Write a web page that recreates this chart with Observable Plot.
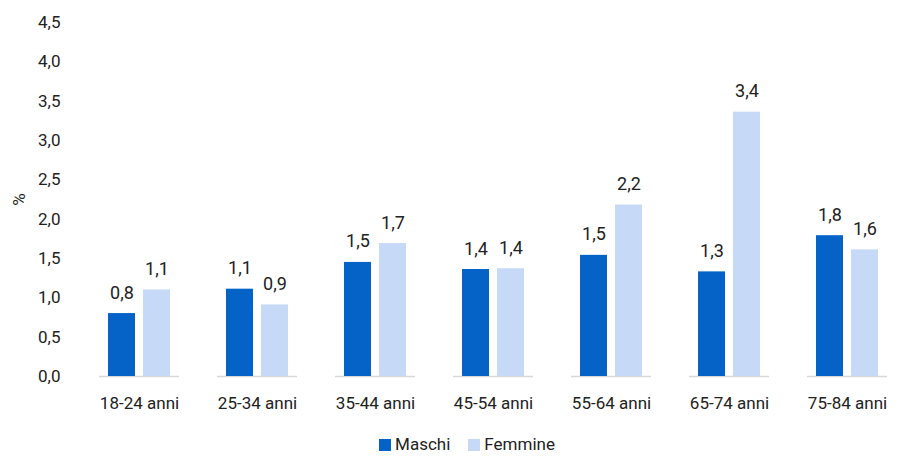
<!DOCTYPE html>
<html>
<head>
<meta charset="utf-8">
<script src="https://cdn.jsdelivr.net/npm/d3@7"></script>
<script src="https://cdn.jsdelivr.net/npm/@observablehq/plot@0.6"></script>
<style>
  html, body { margin: 0; padding: 0; background: #fff; overflow: hidden; }
  #chart { width: 901px; }
  .legend { display: flex; justify-content: center; align-items: center; gap: 18px; height: 27px;
    font-family: "Liberation Sans Narrow", "Arial Narrow", Roboto, sans-serif; font-size: 17px; color: #222; padding-left: 33px; }
  .legend span.sw { display: inline-block; width: 12px; height: 12px; margin-right: 4px; vertical-align: -1px; }
</style>
</head>
<body>
<div id="chart"></div>
<script>
const ages = ["18-24 anni", "25-34 anni", "35-44 anni", "45-54 anni", "55-64 anni", "65-74 anni", "75-84 anni"];
const sexes = ["Maschi", "Femmine"];
const colors = ["#0563c8", "#c6daf7"];
const maschi = [0.80, 1.11, 1.45, 1.36, 1.54, 1.33, 1.79];
const femmine = [1.10, 0.91, 1.69, 1.37, 2.18, 3.36, 1.61];
const maschiLabels = ["0,8", "1,1", "1,5", "1,4", "1,5", "1,3", "1,8"];
const femmineLabels = ["1,1", "0,9", "1,7", "1,4", "2,2", "3,4", "1,6"];
const yTicks = [0, 0.5, 1, 1.5, 2, 2.5, 3, 3.5, 4, 4.5];

const data = ages.flatMap((a, i) => [
  {age: a, sex: sexes[0], v: maschi[i], label: maschiLabels[i]},
  {age: a, sex: sexes[1], v: femmine[i], label: femmineLabels[i]}
]);

const font = '"Liberation Sans Narrow", "Arial Narrow", Roboto, sans-serif';

const chart = Plot.plot({
  width: 901,
  height: 430,
  marginLeft: 80,
  marginRight: -5,
  marginTop: 22,
  marginBottom: 54,
  style: {fontFamily: font, fontSize: "17px", color: "#222", background: "#fff"},
  fx: {domain: ages, padding: 0, label: null},
  x: {domain: sexes, paddingInner: 0.229, paddingOuter: 0.8, axis: null},
  y: {domain: [0, 4.5], label: "%"},
  color: {domain: sexes, range: colors},
  marks: [
    Plot.axisFx({anchor: "bottom", tickSize: 0, tickPadding: 20, label: null, fontSize: 17}),
    Plot.axisY({ticks: yTicks, tickSize: 0, tickPadding: 20, tickFormat: d => d.toFixed(1).replace(".", ","),
      label: "%", labelAnchor: "center", labelArrow: "none", labelOffset: 68, fontSize: 17}),
    Plot.ruleY([0], {stroke: "#d9d9d9", strokeWidth: 1.5, insetLeft: 19, insetRight: 19}),
    Plot.barY(data, {fx: "age", x: "sex", y: "v", fill: "sex"}),
    Plot.text(data, {fx: "age", x: "sex", y: "v", text: "label", lineAnchor: "bottom", dy: -15, fontSize: 18, fill: "#222"})
  ]
});
document.getElementById("chart").appendChild(chart);

const legend = document.createElement("div");
legend.className = "legend";
sexes.forEach((s, i) => {
  const item = document.createElement("div");
  const sw = document.createElement("span");
  sw.className = "sw";
  sw.style.background = colors[i];
  item.appendChild(sw);
  item.appendChild(document.createTextNode(s));
  legend.appendChild(item);
});
document.body.appendChild(legend);
</script>
</body>
</html>
